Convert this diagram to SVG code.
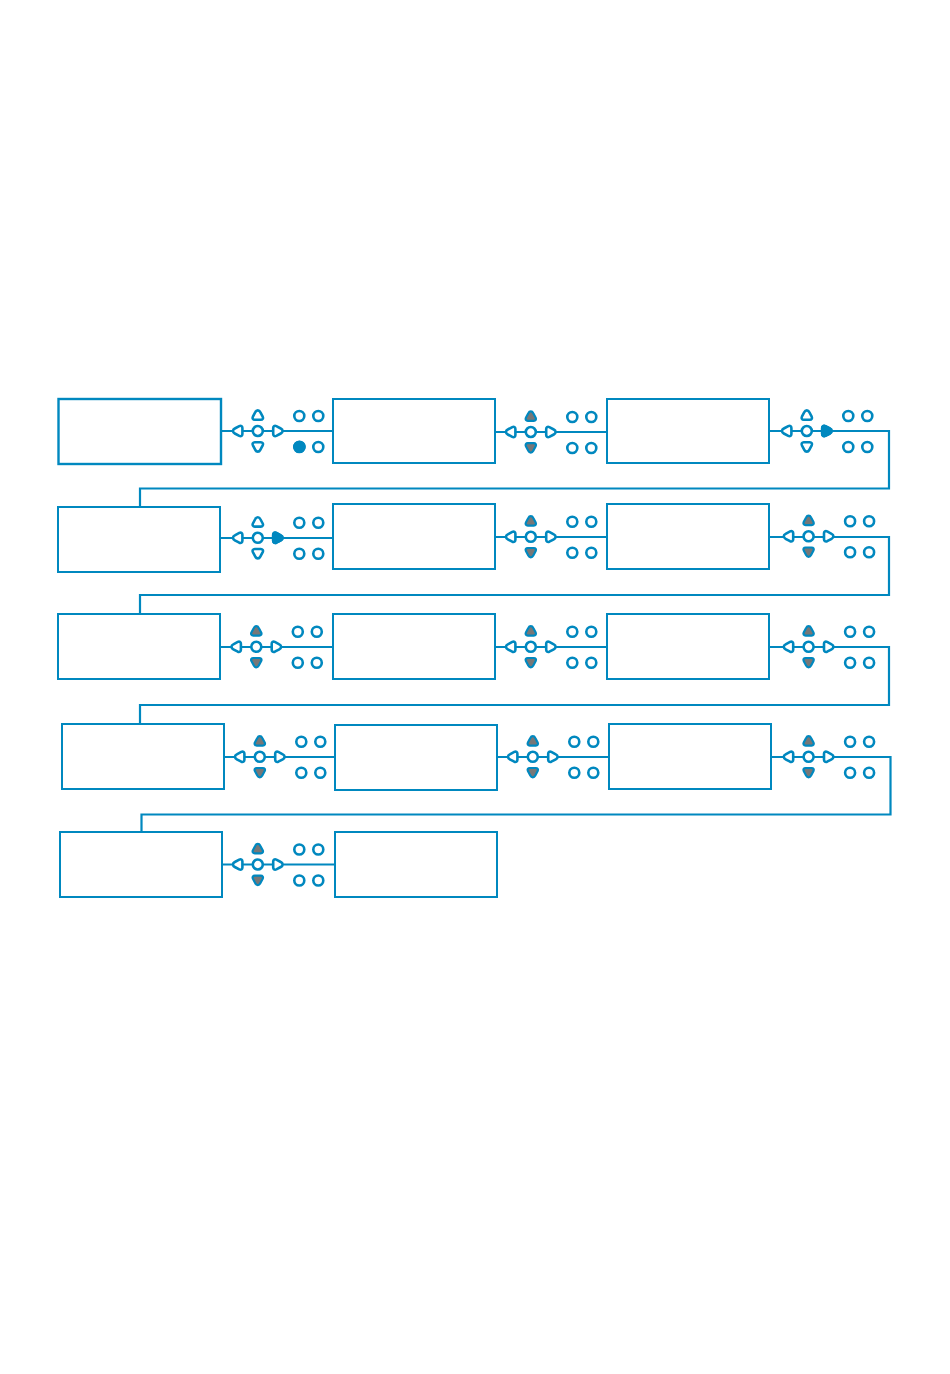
<svg xmlns="http://www.w3.org/2000/svg" width="950" height="1374" viewBox="0 0 950 1374">
<style>
.box{fill:#fff;stroke:#0088bf;stroke-width:2}
.wire{fill:none;stroke:#0088bf;stroke-width:2.200}
.k{fill:#fff;stroke:#0088bf;stroke-width:2.600;stroke-linejoin:round}
.g{fill:#777;stroke:#0088bf;stroke-width:2.200;stroke-linejoin:round}
.b{fill:#0088bf;stroke:#0088bf;stroke-width:2.600;stroke-linejoin:round}
</style>
<defs>
<path id="up" d="M0 -4.800 C1.200 -4.800 2 -4 2.500 -3 L4.900 1.500 C5.700 3.200 4.800 4.600 3 4.600 L-3 4.600 C-4.800 4.600 -5.700 3.200 -4.900 1.500 L-2.500 -3 C-2 -4 -1.200 -4.800 0 -4.800Z"/>
<path id="dn" d="M0 4.800 C1.200 4.800 2 4 2.500 3 L4.900 -1.500 C5.700 -3.200 4.800 -4.600 3 -4.600 L-3 -4.600 C-4.800 -4.600 -5.700 -3.200 -4.900 -1.500 L-2.500 3 C-2 4 -1.200 4.800 0 4.800Z"/>
<path id="lf" d="M-4.800 0 C-4.800 1.200 -4 2 -3 2.500 L1.500 4.900 C3.200 5.700 4.600 4.800 4.600 3 L4.600 -3 C4.600 -4.800 3.200 -5.700 1.500 -4.900 L-3 -2.500 C-4 -2 -4.800 -1.200 -4.800 0Z"/>
<path id="rt" d="M4.800 0 C4.800 1.200 4 2 3 2.500 L-1.500 4.900 C-3.200 5.700 -4.600 4.800 -4.600 3 L-4.600 -3 C-4.600 -4.800 -3.200 -5.700 -1.500 -4.900 L3 -2.500 C4 -2 4.800 -1.200 4.800 0Z"/>
<g id="dots">
<circle class="k" cx="41.500" cy="-15" r="5"/><circle class="k" cx="60.500" cy="-15" r="5"/>
<circle class="k" cx="60.500" cy="16" r="5"/>
</g>
<g id="dots4"><use href="#dots"/><circle class="k" cx="41.500" cy="16" r="5"/></g>
<g id="mid">
<use href="#lf" class="k" x="-20" y="0"/><use href="#rt" class="k" x="20" y="0"/>
<circle class="k" cx="0" cy="0" r="5"/>
</g>
<g id="plain"><use href="#mid"/><use href="#up" class="k" y="-15.800"/><use href="#dn" class="k" y="15.800"/><use href="#dots4"/></g>
<g id="gray"><use href="#mid"/><use href="#up" class="g" y="-15.800"/><use href="#dn" class="g" y="15.800"/><use href="#dots4"/></g>
<g id="rightOn"><use href="#plain"/><use href="#rt" class="b" x="20"/></g>
</defs>
<g id="connectors">
<path class="wire" d="M221 431H333"/>
<path class="wire" d="M495 432H607"/>
<path class="wire" d="M769 431H889V488.500H140V507"/>
<path class="wire" d="M220 538H333"/>
<path class="wire" d="M495 537H607"/>
<path class="wire" d="M769 537H889V595H140V614"/>
<path class="wire" d="M220 647H333"/>
<path class="wire" d="M495 647H607"/>
<path class="wire" d="M769 647H889V705H140V724"/>
<path class="wire" d="M224 757H335"/>
<path class="wire" d="M497 757H609"/>
<path class="wire" d="M771 757H890.500V814.500H141.500V832"/>
<path class="wire" d="M222 864.500H335"/>
</g>
<g id="node-1"><rect class="box" x="58.500" y="399" width="162.500" height="65" style="stroke-width:2.400"/></g>
<g id="node-2"><rect class="box" x="333" y="399" width="162" height="64"/></g>
<g id="node-3"><rect class="box" x="607" y="399" width="162" height="64"/></g>
<g id="node-4"><rect class="box" x="58" y="507" width="162" height="65"/></g>
<g id="node-5"><rect class="box" x="333" y="504" width="162" height="65"/></g>
<g id="node-6"><rect class="box" x="607" y="504" width="162" height="65"/></g>
<g id="node-7"><rect class="box" x="58" y="614" width="162" height="65"/></g>
<g id="node-8"><rect class="box" x="333" y="614" width="162" height="65"/></g>
<g id="node-9"><rect class="box" x="607" y="614" width="162" height="65"/></g>
<g id="node-10"><rect class="box" x="62" y="724" width="162" height="65"/></g>
<g id="node-11"><rect class="box" x="335" y="725" width="162" height="65"/></g>
<g id="node-12"><rect class="box" x="609" y="724" width="162" height="65"/></g>
<g id="node-13"><rect class="box" x="60" y="832" width="162" height="65"/></g>
<g id="node-14"><rect class="box" x="335" y="832" width="162" height="65"/></g>
<g id="keys-1"><use href="#plain" x="257.800" y="431"/><circle class="b" cx="299.500" cy="446.800" r="5"/></g>
<g id="keys-2"><use href="#gray" x="530.800" y="432"/></g>
<g id="keys-3"><use href="#rightOn" x="806.800" y="431"/></g>
<g id="keys-4"><use href="#rightOn" x="257.800" y="537.800"/></g>
<g id="keys-5"><use href="#gray" x="530.800" y="536.800"/></g>
<g id="keys-6"><use href="#gray" x="808.600" y="536.300"/></g>
<g id="keys-7"><use href="#gray" x="256.300" y="646.800"/></g>
<g id="keys-8"><use href="#gray" x="530.800" y="646.800"/></g>
<g id="keys-9"><use href="#gray" x="808.600" y="646.800"/></g>
<g id="keys-10"><use href="#gray" x="259.800" y="756.800"/></g>
<g id="keys-11"><use href="#gray" x="532.800" y="756.800"/></g>
<g id="keys-12"><use href="#gray" x="808.600" y="756.800"/></g>
<g id="keys-13"><use href="#gray" x="257.800" y="864.500"/></g>
</svg>
